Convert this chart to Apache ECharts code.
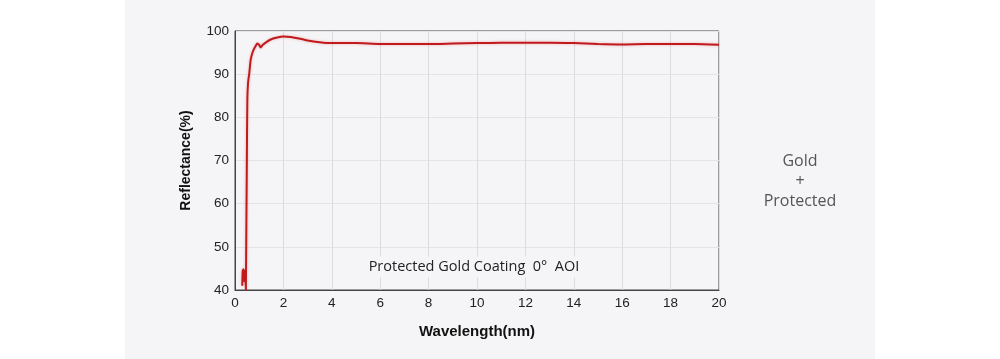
<!DOCTYPE html>
<html>
<head>
<meta charset="utf-8">
<script src="https://cdn.jsdelivr.net/npm/echarts@6/dist/echarts.min.js"></script>
<style>
html,body{margin:0;padding:0;background:#ffffff;}
#wrap{position:absolute;left:125px;top:0;width:750px;height:359px;background:#f5f5f7;}
#chart{position:absolute;left:0;top:0;width:1000px;height:359px;}
</style>
</head>
<body>
<div id="wrap"></div>
<div id="chart"></div>
<script>
var wavelength = [0.30, 0.32, 0.35, 0.38, 0.40, 0.43, 0.45, 0.47, 0.49, 0.51, 0.54, 0.59, 0.64, 0.69, 0.78, 0.86, 0.92, 1.00, 1.06, 1.15, 1.31, 1.50, 1.75, 2.00, 2.30, 2.70, 3.00, 3.50, 4.00, 5.00, 6.00, 7.00, 8.00, 9.00, 10.00, 11.00, 12.00, 13.00, 14.00, 15.00, 16.00, 17.00, 18.00, 19.00, 20.00];
var reflectance = [41.0, 44.5, 44.8, 42.0, 44.5, 44.0, 40.0, 40.0, 70.0, 84.0, 88.0, 90.2, 93.0, 94.4, 95.8, 96.6, 97.1, 96.8, 96.2, 96.8, 97.5, 98.1, 98.5, 98.7, 98.6, 98.2, 97.8, 97.4, 97.2, 97.2, 97.0, 97.0, 97.0, 97.1, 97.2, 97.3, 97.3, 97.3, 97.2, 97.0, 96.9, 97.0, 97.0, 97.0, 96.8];
var xTicks = [0, 2, 4, 6, 8, 10, 12, 14, 16, 18, 20];
var yTicks = [40, 50, 60, 70, 80, 90, 100];

var pts = wavelength.map(function(w, i){ return [w, reflectance[i]]; });
var chart = echarts.init(document.getElementById('chart'), null, {renderer:'canvas'});
chart.setOption({
  backgroundColor: 'transparent',
  animation: false,
  grid: {left: 235, right: 281, top: 31, bottom: 69, show: true, borderColor: '#444', borderWidth: 1, backgroundColor: 'transparent'},
  xAxis: {
    type: 'value', min: xTicks[0], max: xTicks[xTicks.length-1], interval: 2,
    name: 'Wavelength(nm)', nameLocation: 'middle', nameGap: 34,
    nameTextStyle: {fontFamily: 'Liberation Sans, Arial', fontWeight: 'bold', fontSize: 15, color: '#111'},
    axisLine: {show: true, lineStyle: {color: '#444', width: 1}},
    axisTick: {show: false},
    axisLabel: {color: '#222', fontSize: 13.5, fontFamily: 'Liberation Sans, Arial', margin: 6},
    splitLine: {show: true, lineStyle: {color: '#dcdcdc', width: 1}}
  },
  yAxis: {
    type: 'value', min: yTicks[0], max: yTicks[yTicks.length-1], interval: 10,
    name: 'Reflectance(%)', nameLocation: 'middle', nameGap: 42,
    nameTextStyle: {fontFamily: 'Liberation Sans, Arial', fontWeight: 'bold', fontSize: 14, color: '#111'},
    axisLine: {show: true, lineStyle: {color: '#444', width: 1}},
    axisTick: {show: false},
    axisLabel: {color: '#222', fontSize: 13.5, fontFamily: 'Liberation Sans, Arial', margin: 6},
    splitLine: {show: true, lineStyle: {color: '#e4e4e4', width: 1}}
  },
  series: [{
    type: 'line', data: pts, showSymbol: false, smooth: 0.2, clip: true,
    lineStyle: {color: '#c01a1e', width: 2, shadowColor: 'rgba(220,80,80,0.4)', shadowBlur: 3}
  }],
  graphic: [
    {type: 'text', x: 474, y: 267, z: 10, style: {text: 'Protected Gold Coating  0°  AOI', align: 'center', verticalAlign: 'middle', fontSize: 14.5, fontFamily: 'Open Sans, Liberation Sans', fill: '#222', backgroundColor: '#f5f5f7', padding: [3, 4]}},
    {type: 'text', x: 800, y: 181, style: {text: 'Gold\n+\nProtected', align: 'center', verticalAlign: 'middle', fontSize: 16, lineHeight: 20, fontFamily: 'Open Sans, Liberation Sans', fill: '#555'}}
  ]
});
</script>
</body>
</html>
